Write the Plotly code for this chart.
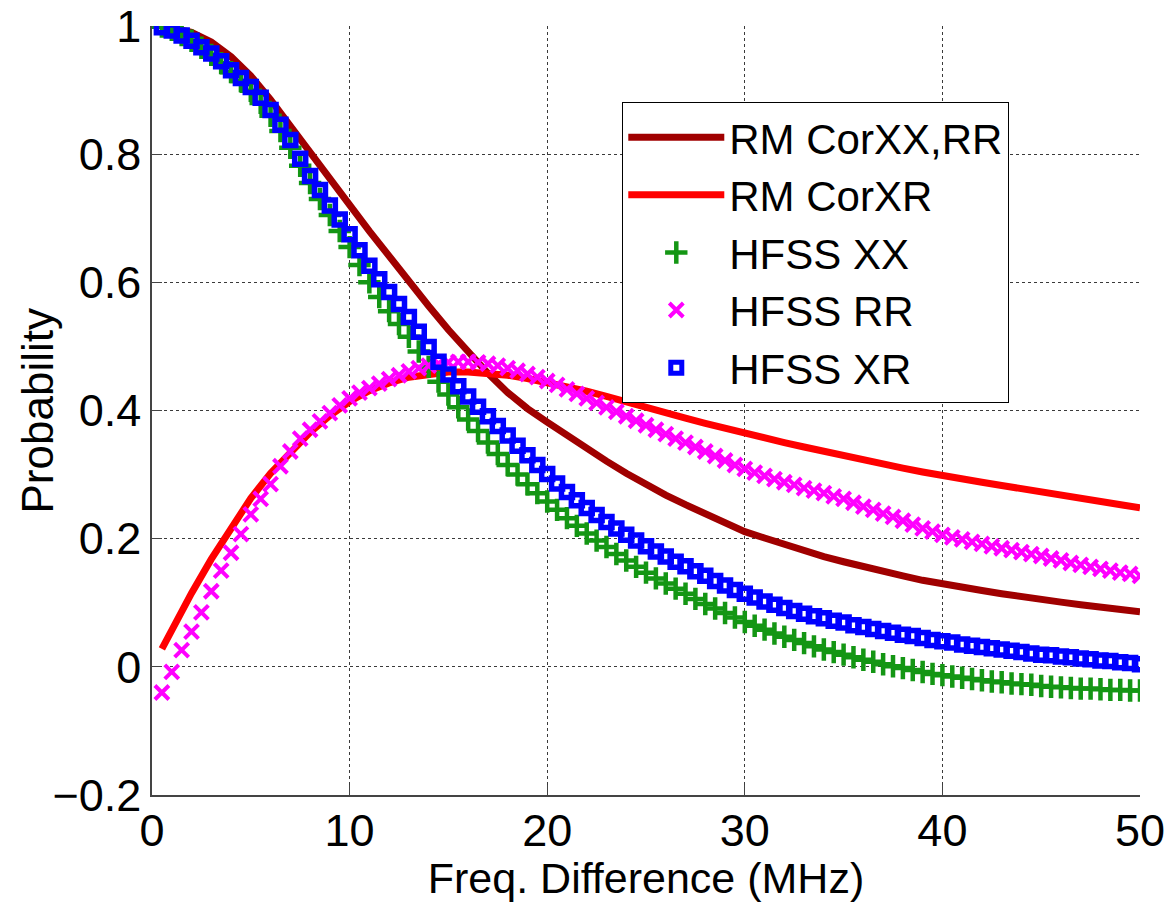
import plotly.graph_objects as go

# ---------------- data ----------------
freq_line = [0.5] + list(range(1, 51))          # MHz, for the RM curves
freq_hfss = [0.5 * i for i in range(1, 101)]      # MHz, HFSS samples every 0.5 MHz

rm_corxx_rr = [0.999, 0.997, 0.990, 0.975, 0.952, 0.922, 0.885, 0.845, 0.804, 0.763,
               0.721, 0.680, 0.640, 0.601, 0.563, 0.526, 0.491, 0.458, 0.428, 0.403,
               0.382, 0.361, 0.341, 0.321, 0.302, 0.284, 0.268, 0.253, 0.238, 0.224,
               0.211, 0.201, 0.191, 0.181, 0.172, 0.164, 0.156, 0.149, 0.142, 0.135,
               0.129, 0.124, 0.119, 0.114, 0.109, 0.105, 0.101, 0.097, 0.093, 0.089,
               0.086]

rm_corxr = [0.028, 0.058, 0.115, 0.168, 0.218, 0.263, 0.302, 0.336, 0.366, 0.392,
            0.414, 0.431, 0.443, 0.452, 0.457, 0.460, 0.460, 0.458, 0.455, 0.450,
            0.444, 0.437, 0.430, 0.422, 0.413, 0.404, 0.396, 0.388, 0.380, 0.372,
            0.364, 0.357, 0.350, 0.343, 0.336, 0.329, 0.322, 0.316, 0.310, 0.304,
            0.298, 0.293, 0.288, 0.283, 0.278, 0.273, 0.268, 0.263, 0.258, 0.253,
            0.248]

hfss_xx = [0.999, 0.994, 0.986, 0.977, 0.966, 0.955, 0.942, 0.928, 0.914, 0.899,
           0.880, 0.860, 0.836, 0.810, 0.782, 0.755, 0.730, 0.705, 0.680, 0.655,
           0.627, 0.600, 0.577, 0.555, 0.535, 0.515, 0.492, 0.468, 0.445, 0.425,
           0.405, 0.386, 0.368, 0.350, 0.332, 0.315, 0.300, 0.285, 0.271, 0.258,
           0.245, 0.232, 0.220, 0.208, 0.197, 0.187, 0.176, 0.166, 0.156, 0.147,
           0.138, 0.130, 0.122, 0.114, 0.106, 0.098, 0.091, 0.084, 0.077, 0.070,
           0.064, 0.058, 0.052, 0.047, 0.042, 0.037, 0.032, 0.027, 0.023, 0.019,
           0.015, 0.011, 0.008, 0.004, 0.001, -0.002, -0.005, -0.008, -0.011, -0.013,
           -0.015, -0.017, -0.019, -0.021, -0.023, -0.024, -0.026, -0.027, -0.028, -0.030,
           -0.031, -0.032, -0.033, -0.034, -0.034, -0.035, -0.036, -0.036, -0.037, -0.037]

hfss_rr = [-0.040, -0.008, 0.026, 0.055, 0.085, 0.118, 0.150, 0.178, 0.207, 0.238,
           0.262, 0.285, 0.313, 0.336, 0.356, 0.370, 0.383, 0.396, 0.408, 0.419,
           0.428, 0.435, 0.442, 0.449, 0.455, 0.461, 0.466, 0.470, 0.473, 0.475,
           0.476, 0.476, 0.475, 0.473, 0.470, 0.466, 0.462, 0.457, 0.452, 0.446,
           0.440, 0.433, 0.426, 0.419, 0.412, 0.405, 0.398, 0.391, 0.384, 0.377,
           0.370, 0.363, 0.356, 0.350, 0.343, 0.336, 0.329, 0.322, 0.315, 0.309,
           0.303, 0.298, 0.293, 0.288, 0.284, 0.279, 0.275, 0.271, 0.266, 0.262,
           0.256, 0.250, 0.245, 0.239, 0.234, 0.228, 0.222, 0.216, 0.211, 0.206,
           0.202, 0.199, 0.195, 0.192, 0.188, 0.185, 0.182, 0.179, 0.176, 0.173,
           0.169, 0.166, 0.162, 0.159, 0.156, 0.153, 0.150, 0.147, 0.145, 0.142]

hfss_xr = [0.998, 0.993, 0.985, 0.977, 0.967, 0.957, 0.945, 0.931, 0.919, 0.905,
           0.888, 0.869, 0.846, 0.822, 0.793, 0.766, 0.744, 0.720, 0.698, 0.675,
           0.650, 0.626, 0.605, 0.585, 0.566, 0.546, 0.523, 0.499, 0.476, 0.456,
           0.438, 0.422, 0.406, 0.391, 0.376, 0.361, 0.345, 0.330, 0.315, 0.301,
           0.286, 0.273, 0.260, 0.248, 0.237, 0.226, 0.216, 0.206, 0.197, 0.188,
           0.180, 0.172, 0.164, 0.157, 0.149, 0.142, 0.134, 0.127, 0.120, 0.114,
           0.108, 0.102, 0.097, 0.092, 0.087, 0.083, 0.079, 0.076, 0.072, 0.069,
           0.065, 0.062, 0.059, 0.056, 0.053, 0.050, 0.048, 0.045, 0.042, 0.040,
           0.038, 0.035, 0.033, 0.031, 0.029, 0.027, 0.025, 0.023, 0.021, 0.019,
           0.018, 0.016, 0.015, 0.013, 0.012, 0.010, 0.009, 0.007, 0.006, 0.004]

x_ticks = [0, 10, 20, 30, 40, 50]
y_ticks = [-0.2, 0, 0.2, 0.4, 0.6, 0.8, 1]
y_ticktext = ["\u22120.2", "0", "0.2", "0.4", "0.6", "0.8", "1"]

x_title = "Freq. Difference (MHz)"
y_title = "Probability"

# ---------------- figure ----------------
FONT = "Liberation Sans, Arial, Helvetica, sans-serif"
GRID = "#3a3a3a"
GREEN = "#149614"
MAGENTA = "#ff00ff"
BLUE = "#0000ff"

fig = go.Figure()
fig.add_trace(go.Scatter(x=freq_line, y=rm_corxx_rr, mode="lines", name="RM CorXX,RR",
                         line=dict(color="#a00000", width=7)))
fig.add_trace(go.Scatter(x=freq_line, y=rm_corxr, mode="lines", name="RM CorXR",
                         line=dict(color="#ff0000", width=7)))
fig.add_trace(go.Scatter(x=freq_hfss, y=hfss_xx, mode="markers", name="HFSS XX",
                         marker=dict(symbol="cross-thin-open", size=16, color=GREEN,
                                     line=dict(color=GREEN, width=4.5))))
fig.add_trace(go.Scatter(x=freq_hfss, y=hfss_rr, mode="markers", name="HFSS RR",
                         marker=dict(symbol="x-thin-open", size=14, color=MAGENTA,
                                     line=dict(color=MAGENTA, width=4))))
fig.add_trace(go.Scatter(x=freq_hfss, y=hfss_xr, mode="markers", name="HFSS XR",
                         marker=dict(symbol="square-open", size=11, color=BLUE,
                                     line=dict(color=BLUE, width=5.5))))

axis_common = dict(
    showline=True, linecolor="#444444", linewidth=1.5, mirror=False,
    ticks="inside", ticklen=10, tickwidth=1.2, tickcolor="#444444",
    showgrid=True, gridcolor=GRID, gridwidth=1, griddash="dot",
    zeroline=False, automargin=False,
    tickfont=dict(family=FONT, size=45, color="black"),
)

fig.update_layout(
    width=1168, height=902,
    margin=dict(l=152, r=28, t=26, b=107, pad=0),
    paper_bgcolor="white", plot_bgcolor="white",
    font=dict(family=FONT, color="black"),
    xaxis=dict(range=[0, 50], tickvals=x_ticks, ticklabelstandoff=-5,
               title=dict(text=x_title,
                          font=dict(family=FONT, size=43, color="black"), standoff=8),
               **axis_common),
    yaxis=dict(range=[-0.2, 1], tickvals=y_ticks, ticktext=y_ticktext,
               **axis_common),
    legend=dict(x=0.4757, y=0.901, xanchor="left", yanchor="top",
                bgcolor="white", bordercolor="black", borderwidth=1.3,
                font=dict(family=FONT, size=42, color="black"),
                itemwidth=96, tracegroupgap=0),
    showlegend=True,
    annotations=[dict(text=y_title, xref="paper", yref="paper",
                      x=-0.1154, y=0.5, xanchor="center", yanchor="middle",
                      textangle=-90, showarrow=False,
                      font=dict(family=FONT, size=44, color="black"))],
)

fig.write_html("out.html")
